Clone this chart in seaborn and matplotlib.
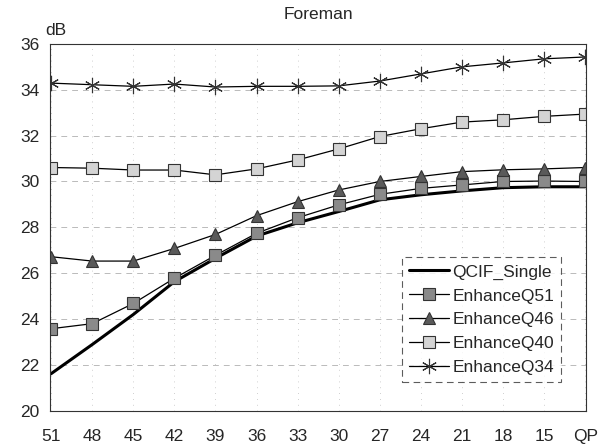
import pandas as pd
import seaborn as sns
from matplotlib import pyplot as plt

# QP axis (last label shown as "QP")
qp_labels = ["51", "48", "45", "42", "39", "36", "33", "30", "27", "24", "21", "18", "15", "QP"]

qcif_single = [21.62, 22.89, 24.2, 25.63, 26.65, 27.62, 28.2, 28.69, 29.2, 29.42, 29.59, 29.73, 29.77, 29.77]
enhance_q51 = [23.58, 23.8, 24.68, 25.78, 26.78, 27.74, 28.42, 28.98, 29.44, 29.7, 29.85, 30.0, 30.02, 30.0]
enhance_q46 = [26.72, 26.53, 26.53, 27.08, 27.69, 28.51, 29.12, 29.63, 30.0, 30.22, 30.43, 30.51, 30.55, 30.61]
enhance_q40 = [30.61, 30.58, 30.5, 30.5, 30.29, 30.55, 30.94, 31.42, 31.96, 32.3, 32.59, 32.69, 32.84, 32.94]
enhance_q34 = [34.29, 34.22, 34.15, 34.25, 34.12, 34.15, 34.15, 34.17, 34.38, 34.69, 35.0, 35.17, 35.35, 35.43]

series = {
    "QCIF_Single": qcif_single,
    "EnhanceQ51": enhance_q51,
    "EnhanceQ46": enhance_q46,
    "EnhanceQ40": enhance_q40,
    "EnhanceQ34": enhance_q34,
}

# marker, face colour, marker size, line width
styles = {
    "QCIF_Single": (None, "black", 0, 2.2),
    "EnhanceQ51": ("s", "#8a8a8a", 8, 0.9),
    "EnhanceQ46": ("^", "#5a5a5a", 8, 0.9),
    "EnhanceQ40": ("s", "#d4d4d4", 8, 0.9),
    "EnhanceQ34": ((6, 2, 0), "black", 11, 0.9),
}

sns.set_style("white")
plt.rcParams["font.family"] = ["Liberation Sans", "DejaVu Sans"]

fig, ax = plt.subplots(figsize=(6.06, 4.48), dpi=100)

for name, values in series.items():
    df = pd.DataFrame({"QP": qp_labels, "PSNR": values})
    marker, face, msize, lw = styles[name]
    sns.lineplot(data=df, x="QP", y="PSNR", ax=ax, color="black", linewidth=lw,
                 marker=marker, markersize=msize, markerfacecolor=face,
                 markeredgecolor="#333333", markeredgewidth=0.8, label=name,
                 sort=False)

ax.set_ylim(20, 36)
ax.set_yticks(range(20, 37, 2))
ax.set_xlim(-0.02, len(qp_labels) - 1 + 0.02)
ax.set_xlabel("")
ax.set_ylabel("")
ax.tick_params(axis="both", labelsize=12.5, length=0)
ax.tick_params(axis="x", pad=13)
ax.tick_params(axis="y", pad=8)

ax.grid(True, axis="y", linestyle=(0, (7, 6)), color="#b0b0b0", linewidth=0.6)
ax.grid(True, axis="x", linestyle=(0, (1, 6)), color="#c0c0c0", linewidth=0.6)
for side in ["left", "bottom", "top", "right"]:
    ax.spines[side].set_color("#333333")
    ax.spines[side].set_linewidth(0.8)
ax.spines["right"].set_linestyle((0, (1, 1)))
ax.spines["top"].set_linestyle((0, (1, 1)))

ax.set_title("Foreman", fontsize=12.5, pad=18)
ax.text(-0.01, 1.015, "dB", transform=ax.transAxes, fontsize=12.5, ha="left", va="bottom")

leg = ax.legend(loc="lower right", bbox_to_anchor=(0.97, 0.055), fontsize=12.5,
                frameon=True, fancybox=False, handlelength=2.3, handletextpad=0.2,
                labelspacing=0.5, borderpad=0.4)
leg.get_frame().set_edgecolor("#333333")
leg.get_frame().set_linestyle((0, (6, 4)))
leg.get_frame().set_linewidth(0.8)

fig.subplots_adjust(left=0.083, right=0.967, top=0.902, bottom=0.083)
fig.savefig("out.png", dpi=100)
